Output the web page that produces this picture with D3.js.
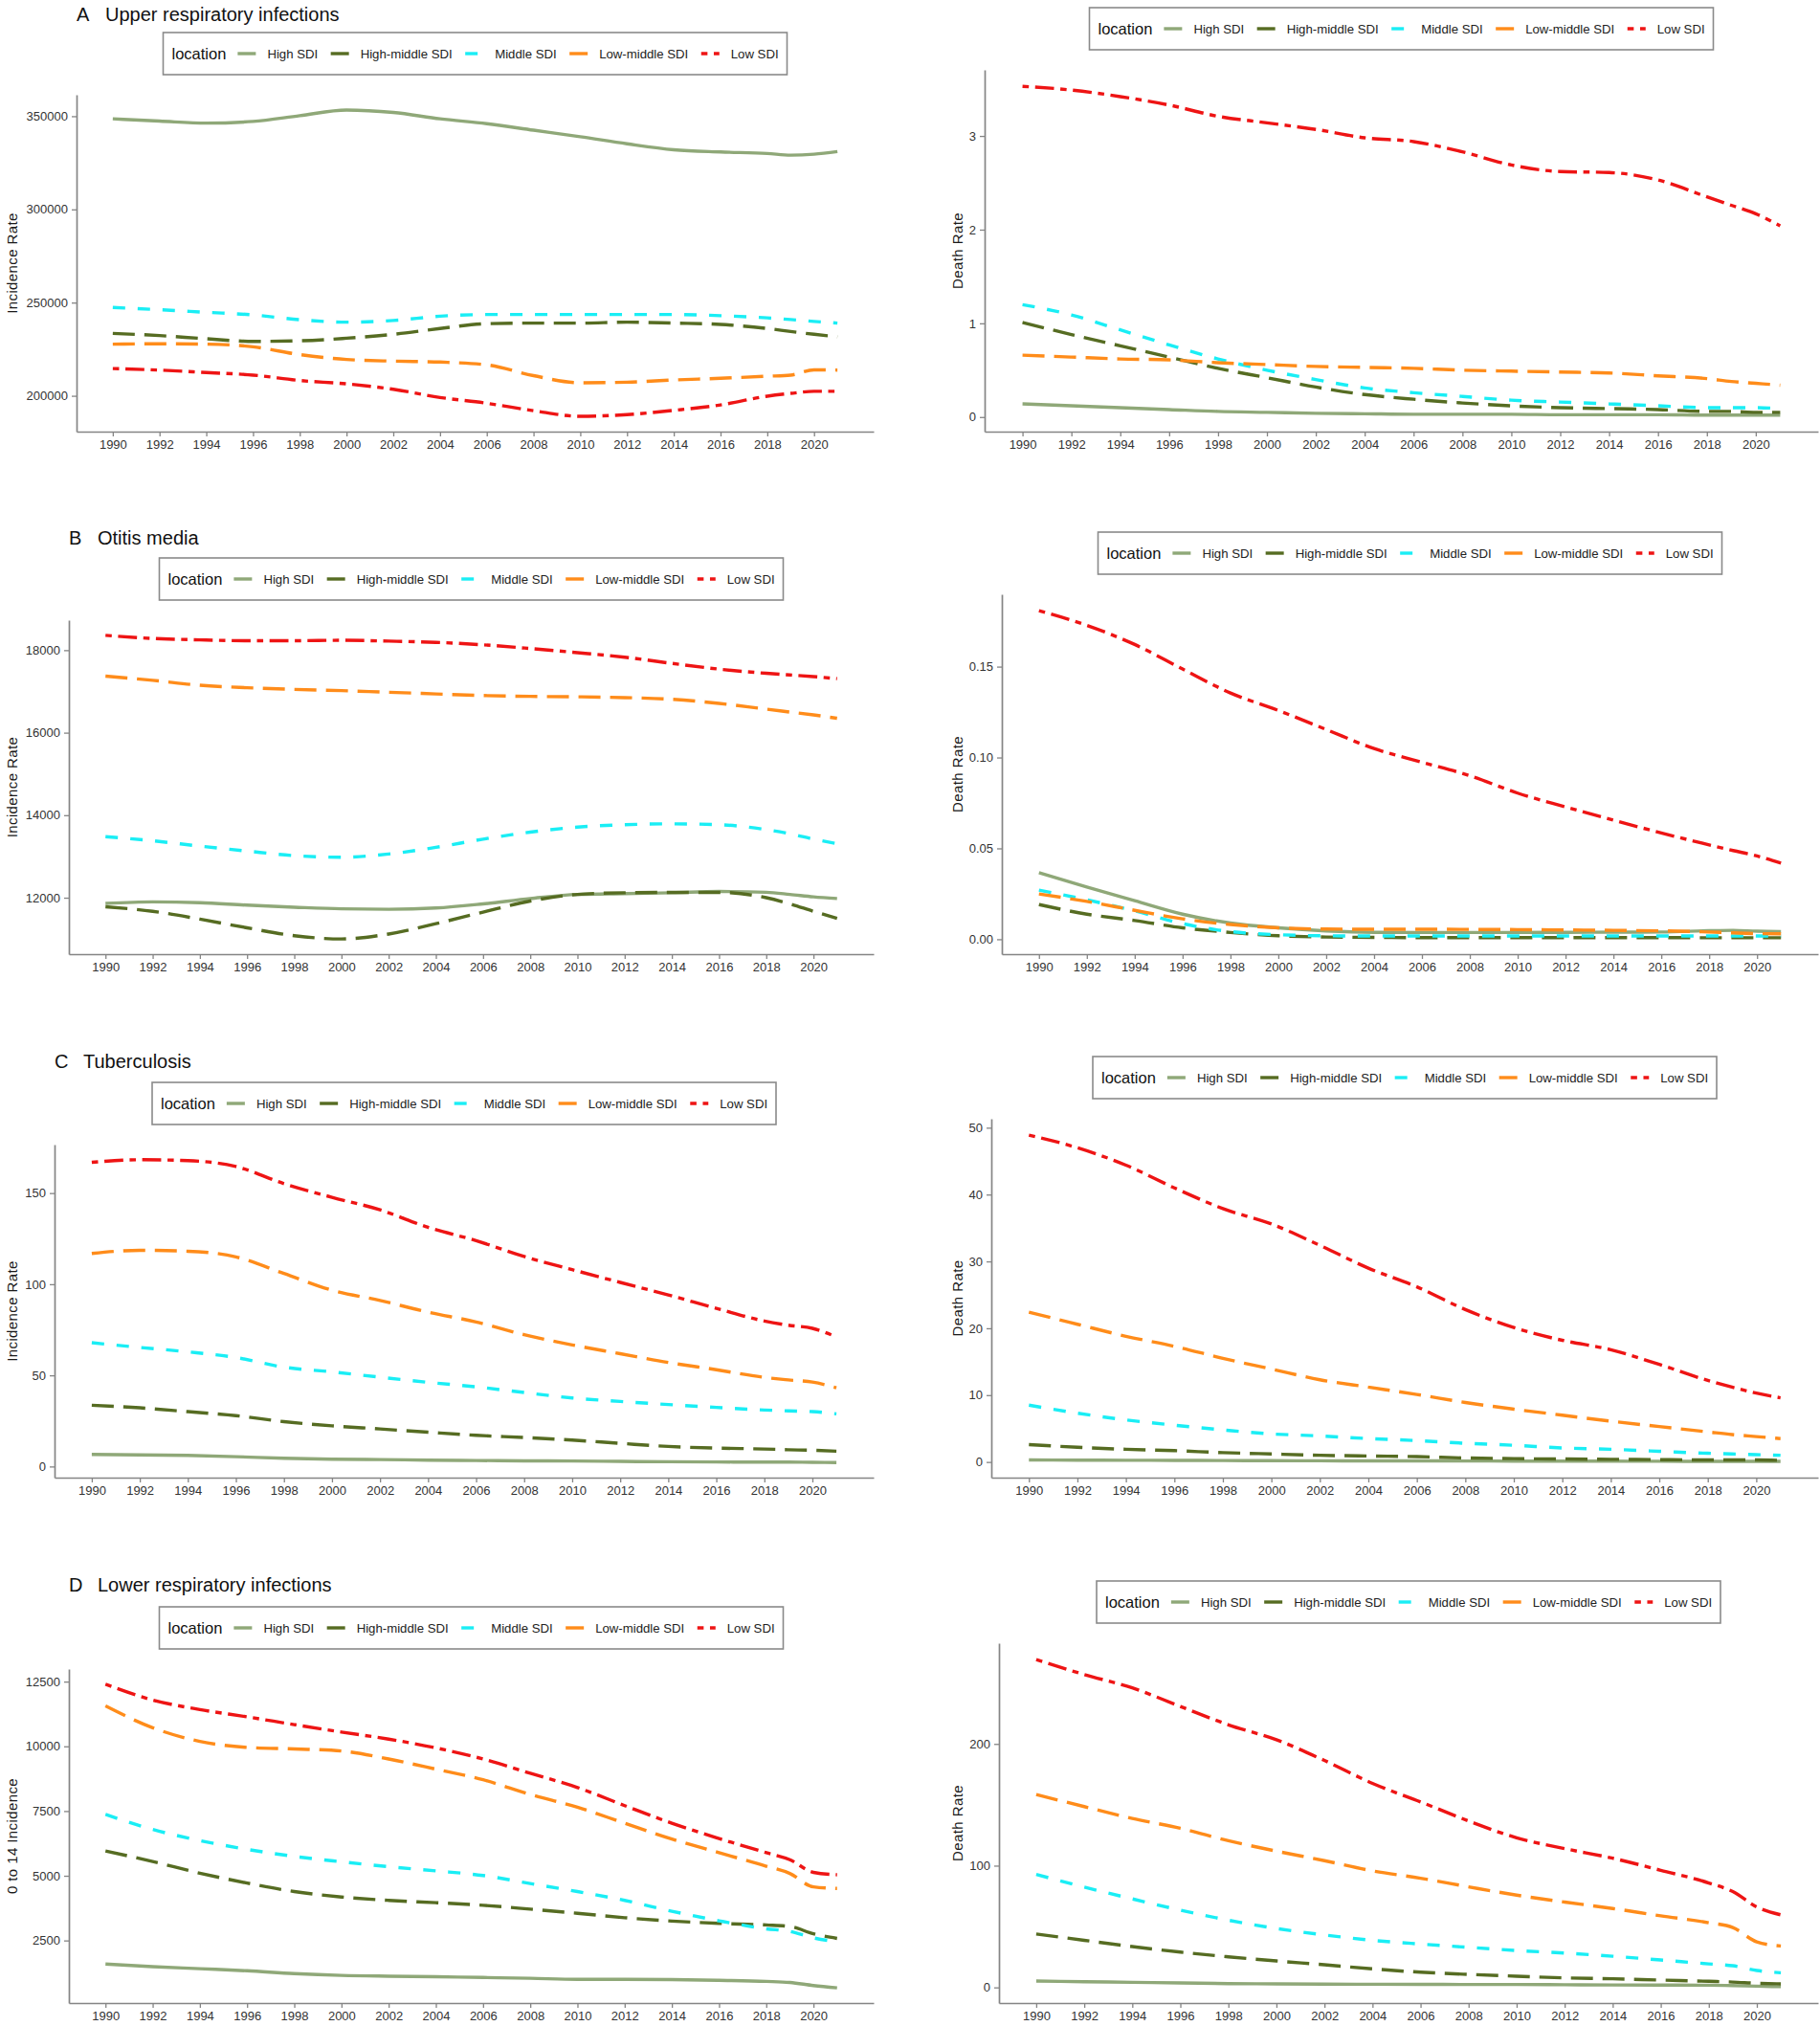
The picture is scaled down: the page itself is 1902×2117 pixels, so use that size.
<!DOCTYPE html>
<html>
<head>
<meta charset="utf-8">
<script src="https://cdn.jsdelivr.net/npm/d3@7"></script>
<style>
body { margin: 0; background: #fff; }
svg { display: block; font-family: "Liberation Sans", Arial, sans-serif; }
</style>
</head>
<body>
<svg id="fig"></svg>
<script>
const years = [1990, 1992, 1994, 1996, 1998, 2000, 2002, 2004, 2006, 2008, 2010, 2012, 2014, 2016, 2018, 2019, 2020, 2021];
const yearTicks = [1990, 1992, 1994, 1996, 1998, 2000, 2002, 2004, 2006, 2008, 2010, 2012, 2014, 2016, 2018, 2020];
const locations = ["High SDI", "High-middle SDI", "Middle SDI", "Low-middle SDI", "Low SDI"];
const letters = ["A", "B", "C", "D"];
const diseases = ["Upper respiratory infections", "Otitis media", "Tuberculosis", "Lower respiratory infections"];

// each array: one row per location (same order as locations)
const uriIncidence = [
    [348600, 347400, 346300, 347200, 350300, 353300, 352000, 348600, 346000, 342500, 339000, 335200, 332000, 330800, 330000, 329100, 329600, 331000],
    [233500, 232300, 230600, 229200, 229500, 230900, 233000, 236100, 238700, 239000, 239000, 239500, 239000, 238300, 236100, 234500, 233000, 231700],
    [247400, 246200, 244800, 243400, 240800, 239500, 240400, 242700, 243600, 243600, 243600, 243600, 243600, 243000, 241800, 240900, 239900, 239000],
    [227700, 227900, 227700, 226300, 222100, 219500, 218600, 218100, 216600, 210800, 207000, 207300, 208500, 209400, 210500, 211100, 213900, 213800],
    [214600, 213800, 212500, 211100, 208200, 206400, 203500, 199100, 196000, 192000, 189000, 189900, 192200, 195100, 199800, 201300, 202400, 202400]
];
const uriDeath = [
    [0.14, 0.12, 0.10, 0.08, 0.06, 0.05, 0.04, 0.035, 0.03, 0.03, 0.03, 0.025, 0.025, 0.025, 0.02, 0.02, 0.02, 0.02],
    [1.01, 0.88, 0.76, 0.64, 0.52, 0.42, 0.32, 0.24, 0.19, 0.15, 0.12, 0.10, 0.09, 0.08, 0.06, 0.06, 0.05, 0.05],
    [1.20, 1.09, 0.93, 0.77, 0.62, 0.50, 0.40, 0.31, 0.26, 0.22, 0.18, 0.16, 0.14, 0.12, 0.10, 0.10, 0.10, 0.09],
    [0.66, 0.64, 0.62, 0.61, 0.58, 0.56, 0.54, 0.53, 0.52, 0.50, 0.49, 0.48, 0.47, 0.44, 0.41, 0.38, 0.36, 0.34],
    [3.53, 3.49, 3.42, 3.33, 3.21, 3.14, 3.07, 2.98, 2.94, 2.83, 2.69, 2.62, 2.61, 2.53, 2.35, 2.26, 2.17, 2.04]
];
const otitisIncidence = [
    [11860, 11900, 11880, 11820, 11770, 11730, 11720, 11750, 11850, 11980, 12080, 12100, 12120, 12150, 12130, 12080, 12020, 11980],
    [11780, 11670, 11480, 11270, 11080, 11000, 11120, 11370, 11650, 11920, 12080, 12120, 12130, 12130, 12000, 11850, 11670, 11500],
    [13480, 13380, 13250, 13130, 13020, 12980, 13060, 13220, 13420, 13590, 13710, 13770, 13790, 13770, 13650, 13550, 13420, 13310],
    [17370, 17270, 17150, 17090, 17050, 17020, 16980, 16940, 16900, 16880, 16870, 16850, 16810, 16710, 16570, 16500, 16430, 16350],
    [18360, 18285, 18250, 18230, 18230, 18240, 18220, 18190, 18130, 18040, 17940, 17830, 17680, 17540, 17440, 17400, 17360, 17310]
];
const otitisDeath = [
    [0.0366, 0.0287, 0.0212, 0.0138, 0.0089, 0.0063, 0.0046, 0.0038, 0.0037, 0.0037, 0.0037, 0.0038, 0.0039, 0.0040, 0.0047, 0.0049, 0.0044, 0.0042],
    [0.0191, 0.0138, 0.0103, 0.0063, 0.0037, 0.0019, 0.0012, 0.0010, 0.0009, 0.0009, 0.0009, 0.0009, 0.0009, 0.0009, 0.0008, 0.0008, 0.0008, 0.0008],
    [0.0270, 0.0217, 0.0156, 0.0086, 0.0042, 0.0025, 0.0019, 0.0018, 0.0018, 0.0018, 0.0018, 0.0018, 0.0018, 0.0018, 0.0018, 0.0018, 0.0018, 0.0018],
    [0.0249, 0.0208, 0.0159, 0.0112, 0.0081, 0.0063, 0.0056, 0.0055, 0.0055, 0.0054, 0.0053, 0.0051, 0.0049, 0.0046, 0.0040, 0.0035, 0.0031, 0.0030],
    [0.1808, 0.1727, 0.1622, 0.1487, 0.1355, 0.1259, 0.1154, 0.1049, 0.0974, 0.0900, 0.0804, 0.0728, 0.0655, 0.0585, 0.0519, 0.0488, 0.0458, 0.0419]
];
const tbIncidence = [
    [6.6, 6.4, 6.1, 5.4, 4.5, 4.0, 3.8, 3.5, 3.3, 3.1, 3.0, 2.8, 2.6, 2.5, 2.4, 2.4, 2.3, 2.2],
    [33.6, 32.2, 30.1, 27.9, 24.6, 22.3, 20.6, 18.8, 17.1, 15.9, 14.5, 12.7, 11.0, 10.1, 9.6, 9.2, 8.9, 8.4],
    [67.9, 65.3, 62.9, 59.8, 54.5, 51.9, 49.0, 46.2, 43.7, 40.6, 37.6, 35.7, 34.0, 32.4, 31.0, 30.5, 30.1, 28.9],
    [116.9, 118.6, 118.1, 115.0, 105.9, 96.7, 91.1, 84.7, 79.3, 72.3, 66.7, 61.9, 57.1, 53.1, 48.9, 47.5, 46.3, 43.2],
    [166.9, 168.3, 167.8, 164.6, 155.2, 147.7, 140.8, 131.2, 123.9, 115.2, 108.0, 101.0, 94.1, 86.8, 79.8, 77.5, 75.8, 71.1]
];
const tbDeath = [
    [0.3, 0.28, 0.26, 0.24, 0.22, 0.2, 0.18, 0.17, 0.16, 0.15, 0.14, 0.13, 0.12, 0.11, 0.1, 0.1, 0.1, 0.1],
    [2.6, 2.2, 1.9, 1.7, 1.4, 1.2, 1.0, 0.9, 0.8, 0.6, 0.5, 0.45, 0.4, 0.35, 0.3, 0.3, 0.3, 0.25],
    [8.5, 7.3, 6.3, 5.5, 4.8, 4.2, 3.9, 3.5, 3.2, 2.8, 2.5, 2.1, 1.9, 1.6, 1.3, 1.2, 1.1, 1.0],
    [22.4, 20.6, 18.8, 17.3, 15.5, 13.9, 12.3, 11.2, 10.1, 8.9, 7.9, 7.0, 6.1, 5.3, 4.5, 4.1, 3.8, 3.5],
    [48.9, 47.0, 44.4, 41.0, 37.9, 35.6, 32.4, 29.0, 26.2, 22.8, 20.1, 18.2, 16.8, 14.6, 12.2, 11.2, 10.3, 9.6]
];
const lriIncidence = [
    [1590, 1490, 1410, 1330, 1220, 1150, 1120, 1100, 1070, 1040, 1000, 1000, 990, 960, 920, 880, 760, 670],
    [5960, 5550, 5100, 4720, 4390, 4180, 4050, 3960, 3860, 3710, 3550, 3380, 3250, 3160, 3100, 3040, 2760, 2580],
    [7370, 6790, 6360, 6020, 5750, 5540, 5350, 5190, 5010, 4700, 4390, 4050, 3630, 3260, 2950, 2850, 2600, 2450],
    [11560, 10720, 10190, 9960, 9900, 9820, 9510, 9120, 8710, 8140, 7650, 7030, 6420, 5890, 5370, 5090, 4570, 4510],
    [12400, 11790, 11420, 11140, 10840, 10550, 10280, 9940, 9510, 8960, 8410, 7710, 7030, 6440, 5890, 5620, 5130, 5040]
];
const lriDeath = [
    [5.2, 4.7, 4.2, 3.7, 3.1, 2.9, 2.7, 2.6, 2.5, 2.4, 2.4, 2.2, 2.0, 1.9, 1.8, 1.5, 1.0, 0.6],
    [43.9, 38.7, 33.5, 29.0, 25.1, 21.7, 18.6, 15.2, 12.5, 10.7, 9.2, 7.8, 7.1, 6.0, 5.0, 4.4, 3.4, 2.9],
    [92.8, 82.4, 72.7, 63.5, 55.2, 48.4, 43.1, 38.7, 35.6, 32.9, 30.3, 28.2, 25.6, 22.5, 19.3, 17.8, 13.9, 12.0],
    [158.4, 148.5, 138.8, 130.7, 120.5, 111.9, 104.1, 95.7, 89.7, 82.6, 75.8, 70.1, 64.8, 58.8, 53.1, 49.2, 37.4, 34.0],
    [269.3, 257.0, 246.0, 230.8, 215.7, 203.4, 186.4, 167.6, 152.4, 136.7, 122.9, 114.0, 106.1, 96.2, 85.8, 78.7, 66.1, 59.6]
];

// y tick labels per panel
const uriIncTicks = [200000, 250000, 300000, 350000];
const uriDeathTicks = [0, 1, 2, 3];
const otitisIncTicks = [12000, 14000, 16000, 18000];
const otitisDeathTicks = [0, 0.05, 0.10, 0.15];
const tbIncTicks = [0, 50, 100, 150];
const tbDeathTicks = [0, 10, 20, 30, 40, 50];
const lriIncTicks = [2500, 5000, 7500, 10000, 12500];
const lriDeathTicks = [0, 100, 200];

// line look per location
const lineStyle = [
    { color: "#8fa878", dash: null },
    { color: "#566c22", dash: "23 10" },
    { color: "#1aeef5", dash: "13 13" },
    { color: "#ff8c1a", dash: "23 10" },
    { color: "#ee1414", dash: "6.6 6.6 19.8 6.6" }
];

// panel placement (col 0 = incidence, col 1 = death)
const panels = [
    { values: uriIncidence, ticks: uriIncTicks, fmt: "d", ylab: "Incidence Rate", row: 0, col: 0, left: 80, legendTop: 34, bottom: 451 },
    { values: uriDeath, ticks: uriDeathTicks, fmt: "d", ylab: "Death Rate", row: 0, col: 1, left: 1029, legendTop: 8, bottom: 451 },
    { values: otitisIncidence, ticks: otitisIncTicks, fmt: "d", ylab: "Incidence Rate", row: 1, col: 0, left: 72, legendTop: 583, bottom: 997 },
    { values: otitisDeath, ticks: otitisDeathTicks, fmt: ".2f", ylab: "Death Rate", row: 1, col: 1, left: 1047, legendTop: 556, bottom: 997 },
    { values: tbIncidence, ticks: tbIncTicks, fmt: "d", ylab: "Incidence Rate", row: 2, col: 0, left: 57, legendTop: 1131, bottom: 1544 },
    { values: tbDeath, ticks: tbDeathTicks, fmt: "d", ylab: "Death Rate", row: 2, col: 1, left: 1036, legendTop: 1104, bottom: 1544 },
    { values: lriIncidence, ticks: lriIncTicks, fmt: "d", ylab: "0 to 14 Incidence", row: 3, col: 0, left: 72, legendTop: 1679, bottom: 2093 },
    { values: lriDeath, ticks: lriDeathTicks, fmt: "d", ylab: "Death Rate", row: 3, col: 1, left: 1044, legendTop: 1652, bottom: 2093 }
];

const svg = d3.select("#fig").attr("width", 1902).attr("height", 2117);
const axisColor = "#858585";
const legendW = 652, legendH = 44;

panels.forEach(function(p) {
    const right = p.col ? 1900 : 913;
    const top = p.legendTop + legendH + 21;

    // ggplot style 5% expansion
    const x = d3.scaleLinear()
        .domain([1990 - 31 * 0.05, 2021 + 31 * 0.05])
        .range([p.left, right]);
    const all = p.values.flat();
    const lo = d3.min(all), hi = d3.max(all), pad = (hi - lo) * 0.05;
    const y = d3.scaleLinear()
        .domain([lo - pad, hi + pad])
        .range([p.bottom, top]);

    const line = d3.line()
        .x(function(d, i) { return x(years[i]); })
        .y(function(d) { return y(d); })
        .curve(d3.curveMonotoneX);

    p.values.forEach(function(series, k) {
        svg.append("path")
            .attr("d", line(series))
            .attr("fill", "none")
            .attr("stroke", lineStyle[k].color)
            .attr("stroke-width", 3.4)
            .attr("stroke-dasharray", lineStyle[k].dash);
    });

    // x axis
    const gx = svg.append("g")
        .attr("transform", "translate(0," + p.bottom + ")")
        .call(d3.axisBottom(x).tickValues(yearTicks).tickFormat(d3.format("d"))
            .tickSize(5).tickPadding(4).tickSizeOuter(0));
    // y axis
    const gy = svg.append("g")
        .attr("transform", "translate(" + p.left + ",0)")
        .call(d3.axisLeft(y).tickValues(p.ticks).tickFormat(d3.format(p.fmt))
            .tickSize(5).tickPadding(4).tickSizeOuter(0));

    [gx, gy].forEach(function(g) {
        g.attr("font-size", 13).attr("font-family", null);
        g.select(".domain").attr("stroke", axisColor).attr("stroke-width", 1.7);
        g.selectAll(".tick line").attr("stroke", axisColor).attr("stroke-width", 1.3);
        g.selectAll(".tick text").attr("fill", "#333");
    });

    // y axis title
    svg.append("text")
        .attr("transform", "translate(" + (p.col ? 1001 : 13) + "," + (top + p.bottom) / 2 + ") rotate(-90)")
        .attr("text-anchor", "middle")
        .attr("dy", "0.35em")
        .attr("font-size", 15)
        .attr("letter-spacing", 0.4)
        .attr("fill", "#1a1a1a")
        .text(p.ylab);

    // panel title, only on the left column
    if (p.col === 0) {
        const t = svg.append("text")
            .attr("x", p.left)
            .attr("y", 22 + 547 * p.row)
            .attr("font-size", 20)
            .attr("fill", "#111");
        t.append("tspan").text(letters[p.row]);
        t.append("tspan").attr("x", p.left + 30).text(diseases[p.row]);
    }

    // legend box centred over the panel
    const bx = (p.left + right) / 2 - legendW / 2;
    const lg = svg.append("g").attr("transform", "translate(" + bx + "," + p.legendTop + ")");
    lg.append("rect")
        .attr("width", legendW).attr("height", legendH)
        .attr("fill", "#fff").attr("stroke", "#8a8a8a").attr("stroke-width", 1.6);
    const mid = legendH / 2;
    let cx = 9;
    const head = lg.append("text")
        .attr("x", cx).attr("y", mid).attr("dy", "0.35em")
        .attr("font-size", 16.5).attr("fill", "#111")
        .text("location");
    cx += head.node().getComputedTextLength() + 12;
    locations.forEach(function(name, k) {
        lg.append("line")
            .attr("x1", cx).attr("x2", cx + 19)
            .attr("y1", mid).attr("y2", mid)
            .attr("stroke", lineStyle[k].color)
            .attr("stroke-width", 3.4)
            .attr("stroke-dasharray", lineStyle[k].dash);
        cx += 31;
        const lt = lg.append("text")
            .attr("x", cx).attr("y", mid).attr("dy", "0.35em")
            .attr("font-size", 13.2).attr("fill", "#222")
            .text(name);
        cx += lt.node().getComputedTextLength() + 13.5;
    });
});
</script>
</body>
</html>
